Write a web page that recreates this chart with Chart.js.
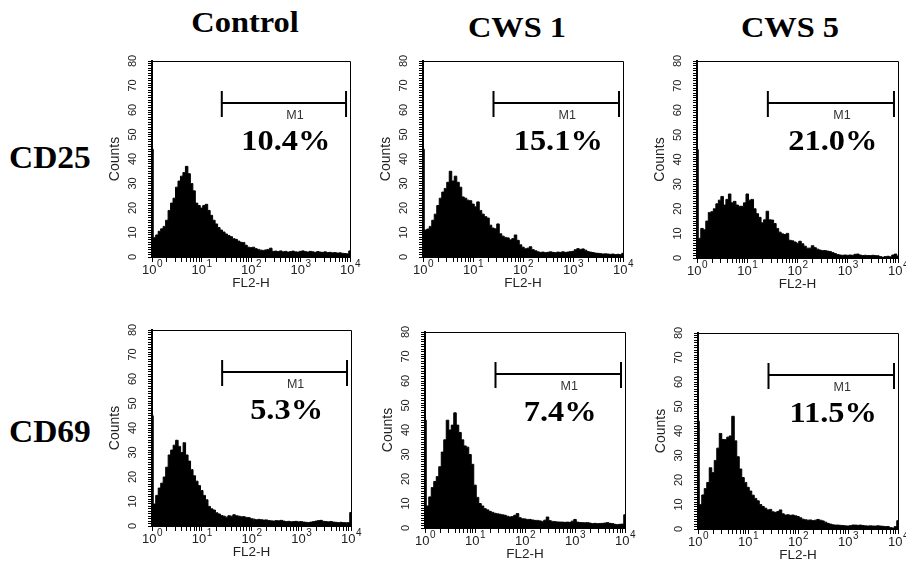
<!DOCTYPE html>
<html>
<head>
<meta charset="utf-8">
<script src="https://cdn.jsdelivr.net/npm/chart.js@4/dist/chart.umd.min.js"></script>
<style>
  html, body { margin: 0; padding: 0; background: #fff; width: 906px; height: 571px; overflow: hidden; }
  .panel { position: absolute; }
  .head { position: absolute; font: bold 30px "Liberation Serif", "Times New Roman", serif; color: #000; white-space: nowrap; transform: translate(-50%, -50%) scaleX(1.08); }
  .row { position: absolute; font: bold 31px "Liberation Serif", "Times New Roman", serif; color: #000; white-space: nowrap; transform-origin: left center; transform: translateY(-50%) scaleX(1.08); }
</style>
</head>
<body>
<div class="head" style="left:245px;top:22px">Control</div>
<div class="head" style="left:517px;top:27px">CWS 1</div>
<div class="head" style="left:790px;top:27px">CWS 5</div>
<div class="row" style="left:9px;top:158px">CD25</div>
<div class="row" style="left:9px;top:432px">CD69</div>

<script>
// channel histogram: 20 bins per decade, log10 position 0..4
const binsPerDecade = 20;
const decadeExponents = ['0', '1', '2', '3', '4'];

const cd25Control = [44, 8, 9, 10.5, 11.5, 12.5, 15, 19, 22, 24, 28.5, 31, 33, 34.5, 37, 34, 30, 27, 22, 21,
  20, 21, 21.5, 19, 17, 15, 13.5, 12, 11, 10.2, 9.4, 8.8, 8.3, 7.5, 7.2, 6.5, 6, 5.9, 4.8, 4,
  3.8, 4, 3.4, 3.1, 2.8, 2.7, 2.9, 3.1, 3.6, 2.3, 2.4, 2.2, 2.5, 2.1, 2.3, 2.0, 2.2, 2.4, 2.1, 2.0,
  2.3, 2.5, 2.2, 2.0, 2.3, 2.1, 1.9, 2.2, 2.0, 1.9, 2.1, 1.8, 1.9, 1.7, 1.8, 1.6, 1.7, 1.5, 1.4, 1.3, 2.5];
const cd25Cws1 = [44, 11, 11.4, 12.5, 15, 17.5, 21, 24, 26.5, 28, 30.5, 35, 31, 33, 30.5, 28.5, 24.5, 24, 23.2, 23,
  21.6, 20.5, 22.5, 19, 17.5, 16.5, 15.9, 13, 11.8, 11.5, 13.5, 9.5, 8.5, 8, 7.8, 7, 7.5, 9, 6.8, 5,
  4, 3.4, 3.6, 4.2, 3, 2.6, 2.1, 1.9, 2.0, 1.8, 1.9, 2.1, 1.9, 1.8, 2.0, 1.9, 2.1, 1.9, 2.0, 2.2,
  2.3, 3.0, 3.4, 3.1, 3.3, 2.8, 2.2, 2.0, 1.8, 1.6, 1.5, 1.4, 1.2, 1.3, 1.2, 1.1, 1.2, 1.0, 1.1, 1.0, 1.5];
const cd25Cws5 = [44, 8, 12, 11.5, 15, 18.5, 18.8, 20, 22, 23.5, 25, 21.5, 23.8, 26, 22.4, 23, 21.5, 21, 21, 22.4,
  26, 23.5, 23.8, 20, 18, 16.5, 14.3, 15.5, 19, 15.5, 15.4, 14, 12, 10.5, 9.8, 9.5, 10, 7.2, 7, 6.5,
  6, 6.8, 5.8, 4.8, 4, 4, 5, 4.2, 3.6, 3.2, 3, 3, 2.8, 2.6, 2.2, 1.8, 1.4, 1.2, 1.1, 1.2,
  1.1, 1.2, 1.1, 1.5, 1.6, 1.2, 1, 1.1, 1, 1, 1.1, 1, 0.9, 0.6, 0.3, 0.6, 0.7, 0.5, 1.2, 1.6, 0.8];
const cd69Control = [45, 9, 12.5, 15.5, 17.5, 20, 24, 29, 31, 33, 35, 32.5, 30, 34, 29, 26.5, 23, 20.5, 18.3, 16.5,
  14.5, 12.5, 10.7, 8, 7, 6.5, 5.4, 4.9, 4.3, 4, 3.6, 4.2, 4, 4.6, 4.2, 4, 3.8, 3.8, 3.5, 3.4,
  3, 2.8, 2.6, 2.7, 2.6, 2.4, 2.5, 2.2, 2.1, 2.0, 2.2, 2.1, 2.3, 2.0, 1.8, 1.9, 1.7, 1.8, 1.9, 1.7,
  1.8, 1.6, 1.5, 1.4, 1.6, 1.8, 2.0, 2.2, 2.3, 1.9, 1.8, 1.7, 1.8, 1.6, 1.5, 1.4, 1.5, 1.4, 1.3, 1.4, 5.5];
const cd69Cws1 = [44, 9, 12.7, 16.5, 19, 21, 25, 31, 36, 44, 40, 42, 47, 42, 39, 36, 33.5, 33, 30, 26,
  17.5, 12.5, 10, 9, 7.9, 7.4, 6.8, 6.4, 6, 5.8, 5.6, 5.4, 5.2, 4.8, 4.5, 4.7, 5.2, 5.9, 4.2, 3.8,
  3.7, 3.5, 3.5, 3.3, 3.1, 3.1, 2.9, 2.7, 3.2, 4.5, 3.0, 2.7, 2.6, 2.5, 2.4, 2.4, 2.3, 2.4, 2.3, 2.8,
  3.5, 2.4, 2.2, 2.2, 2.1, 2.2, 2.0, 1.8, 1.9, 1.8, 1.8, 1.9, 2.0, 2.2, 1.9, 1.8, 1.5, 1.4, 1.5, 1.6, 5.4];
const cd69Cws5 = [44, 10, 13.9, 16.5, 19, 25, 23, 28, 33, 39, 36.5, 36.5, 37.5, 38, 46, 36, 29.5, 24.5, 21, 19,
  17, 15.5, 13.8, 12.5, 11.5, 10, 9.2, 8.5, 7.8, 8, 7, 6.8, 7.1, 7.8, 6.2, 5.7, 5.8, 5.6, 5.7, 5.4,
  5.1, 4.6, 4, 3.8, 3.6, 3.7, 3.4, 3.6, 3.9, 3.6, 3.3, 2.8, 2.3, 2.0, 1.7, 1.6, 1.6, 1.5, 1.4, 1.3,
  1.2, 1.4, 1.6, 1.6, 1.5, 1.6, 1.4, 1.3, 1.2, 1.3, 1.2, 1.2, 1.3, 1.2, 1.1, 1.0, 1.0, 0.6, 0.4, 1.0, 3.4];

const panelCounts = [cd25Control, cd25Cws1, cd25Cws5, cd69Control, cd69Cws1, cd69Cws5];
const panelPercents = ['10.4%', '15.1%', '21.0%', '5.3%', '7.4%', '11.5%'];

// M1 marker, in decades and counts
const gateFrom = 1.41;
const gateTo = 3.92;
const gateLevel = 63;

// plot area of each panel on the page
const panelBoxes = [
  {left: 152, top: 61, w: 198, h: 196},
  {left: 423, top: 61, w: 200, h: 196},
  {left: 697, top: 61, w: 201, h: 197},
  {left: 152, top: 330, w: 199, h: 196},
  {left: 425, top: 332, w: 200, h: 196},
  {left: 698, top: 333, w: 200, h: 196}
];

const Y_AXIS_W = 60;
const X_AXIS_H = 45;
const PAD_TOP = 12;
const PAD_RIGHT = 16;
const SANS = `"Liberation Sans", Arial, sans-serif`;
const SERIF = `"Liberation Serif", "Times New Roman", serif`;

const xTickValues = [];
for (let d = 0; d < 4; d++) {
  xTickValues.push(d);
  for (let m = 2; m <= 9; m++) {
    xTickValues.push(d + Math.log10(m));
  }
}
xTickValues.push(4);

const gatePlugin = {
  id: `gate`,
  afterDraw(chart, args, opts) {
    const {ctx, chartArea: a, scales: {x, y}} = chart;
    ctx.save();

    // box top and right
    ctx.strokeStyle = `#000`;
    ctx.lineWidth = 1;
    ctx.beginPath();
    ctx.moveTo(a.left, a.top + 0.5);
    ctx.lineTo(a.right + 0.5, a.top + 0.5);
    ctx.lineTo(a.right + 0.5, a.bottom);
    ctx.stroke();

    // decade labels 10^n
    ctx.fillStyle = `#222`;
    ctx.textBaseline = `alphabetic`;
    ctx.textAlign = `left`;
    decadeExponents.forEach((e, d) => {
      const px = x.getPixelForValue(d);
      ctx.font = `13px ${SANS}`;
      const w1 = ctx.measureText(`10`).width;
      ctx.font = `10px ${SANS}`;
      const w2 = ctx.measureText(e).width;
      const sx = px - (w1 + w2) / 2;
      ctx.font = `13px ${SANS}`;
      ctx.fillText(`10`, sx, a.bottom + 17);
      ctx.font = `10px ${SANS}`;
      ctx.fillText(e, sx + w1 + 0.5, a.bottom + 10);
    });

    // M1 marker
    const x1 = x.getPixelForValue(gateFrom);
    const x2 = x.getPixelForValue(gateTo);
    const gy = Math.round(y.getPixelForValue(gateLevel));
    ctx.lineWidth = 2;
    ctx.beginPath();
    ctx.moveTo(x1, gy);
    ctx.lineTo(x2, gy);
    ctx.moveTo(x1, gy - 12);
    ctx.lineTo(x1, gy + 14);
    ctx.moveTo(x2, gy - 12);
    ctx.lineTo(x2, gy + 14);
    ctx.stroke();

    const mid = (x1 + x2) / 2;
    ctx.textAlign = `center`;
    ctx.textBaseline = `middle`;
    ctx.fillStyle = `#333`;
    ctx.font = `12.5px ${SANS}`;
    ctx.fillText(`M1`, mid + 11, gy + 13);

    ctx.fillStyle = `#000`;
    ctx.font = `bold 30px ${SERIF}`;
    ctx.translate(mid + 2, gy + 39);
    ctx.scale(1.08, 1);
    ctx.fillText(opts.pct, 0, 0);
    ctx.restore();
  }
};

const makeChart = (canvas, counts, pct) => {
  const points = counts.map((c, i) => ({x: i / binsPerDecade, y: c}));
  return new Chart(canvas, {
    type: `line`,
    data: {
      datasets: [{
        data: points,
        borderColor: `#000`,
        backgroundColor: `#000`,
        borderWidth: 1,
        fill: `origin`,
        pointRadius: 0,
        stepped: `middle`
      }]
    },
    options: {
      responsive: false,
      animation: false,
      devicePixelRatio: 1,
      layout: {padding: {top: PAD_TOP, right: PAD_RIGHT, left: 0, bottom: 0}},
      plugins: {
        legend: {display: false},
        tooltip: {enabled: false},
        gate: {pct}
      },
      scales: {
        x: {
          type: `linear`,
          min: 0,
          max: 4,
          afterBuildTicks: (s) => {
            s.ticks = xTickValues.map((v) => ({value: v}));
          },
          afterFit: (s) => {
            s.height = X_AXIS_H;
            s.paddingLeft = 0;
            s.paddingRight = 0;
          },
          grid: {drawOnChartArea: false, tickLength: 5, color: `#000`},
          border: {color: `#000`, width: 2},
          ticks: {
            autoSkip: false,
            maxRotation: 0,
            callback: () => ``
          },
          title: {
            display: true,
            text: `FL2-H`,
            color: `#222`,
            font: {family: SANS, size: 13.5},
            padding: {top: 0, bottom: 11}
          }
        },
        y: {
          min: 0,
          max: 80,
          afterFit: (s) => {
            s.width = Y_AXIS_W;
            s.paddingTop = 0;
            s.paddingBottom = 0;
          },
          grid: {drawOnChartArea: false, tickLength: 4, color: `#000`},
          border: {color: `#000`, width: 2},
          ticks: {
            stepSize: 1,
            autoSkip: false,
            minRotation: 90,
            maxRotation: 90,
            crossAlign: `center`,
            padding: 9,
            color: `#222`,
            font: {family: SANS, size: 11},
            callback: (v) => (v % 10 === 0 ? String(v) : ``)
          },
          title: {
            display: true,
            text: `Counts`,
            color: `#222`,
            font: {family: SANS, size: 14},
            padding: {top: 15, bottom: 0}
          }
        }
      }
    },
    plugins: [gatePlugin]
  });
};

panelBoxes.forEach((box, i) => {
  const wrap = document.createElement(`div`);
  wrap.className = `panel`;
  const cw = Y_AXIS_W + box.w + PAD_RIGHT;
  const ch = PAD_TOP + box.h + X_AXIS_H;
  wrap.style.left = `${box.left - Y_AXIS_W}px`;
  wrap.style.top = `${box.top - PAD_TOP}px`;
  const canvas = document.createElement(`canvas`);
  canvas.width = cw;
  canvas.height = ch;
  canvas.style.width = `${cw}px`;
  canvas.style.height = `${ch}px`;
  wrap.appendChild(canvas);
  document.body.appendChild(wrap);
  makeChart(canvas, panelCounts[i], panelPercents[i]);
});
</script>
</body>
</html>
